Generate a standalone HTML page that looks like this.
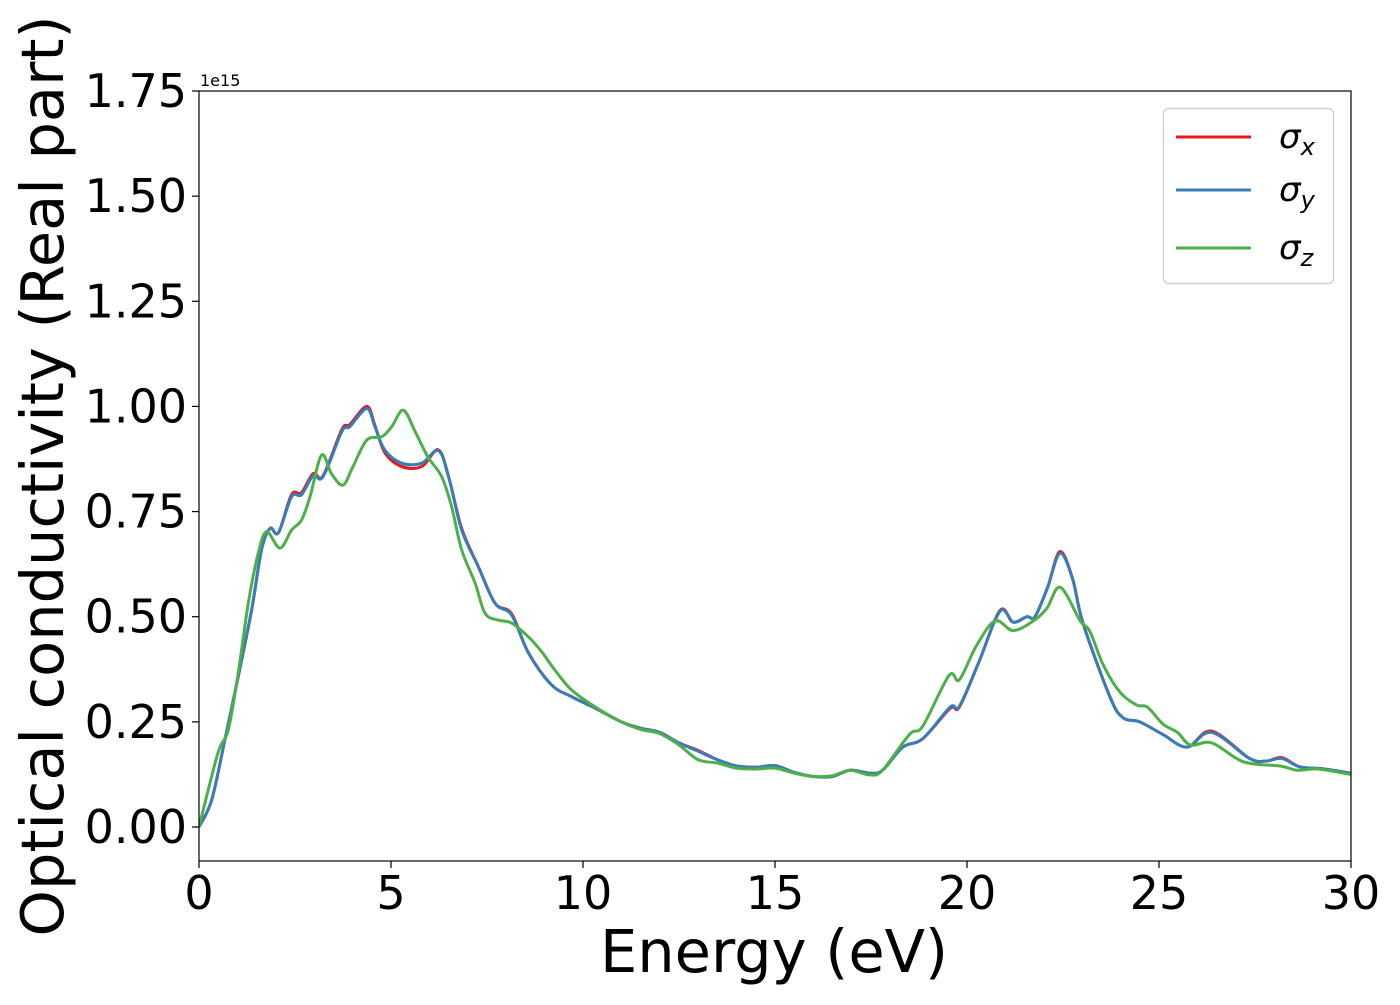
<!DOCTYPE html>
<html><head><meta charset="utf-8"><style>
html,body{margin:0;padding:0;background:#fff}
body{position:relative;width:1400px;height:1000px;overflow:hidden}
svg text{font-family:"DejaVu Sans","Liberation Sans",sans-serif;fill:#000}
</style></head><body>
<svg id="chart" width="1400" height="1000" viewBox="0 0 1400 1000" xmlns="http://www.w3.org/2000/svg">
<rect width="1400" height="1000" fill="#fff"/>
<g id="plot"></g>
<g id="axes"></g>
</svg>
<script>
const xTicks=[0,5,10,15,20,25,30];
const yTicks=[0,0.25,0.5,0.75,1.0,1.25,1.5,1.75];
const yTickLabels=["0.00","0.25","0.50","0.75","1.00","1.25","1.50","1.75"];
const energyXY=[0,0.33,0.68,1.02,1.37,1.63,1.85,2.07,2.41,2.67,2.97,3.23,3.72,3.93,4.37,4.58,4.84,5.28,5.8,6.23,6.5,6.84,7.27,7.71,8.14,8.58,9.18,9.7,10.31,11,11.5,12,12.5,13,13.5,14,14.5,15,15.5,16,16.5,16.95,17.47,17.8,18.33,18.85,19.56,19.8,20.3,20.86,21.2,21.56,21.77,22.1,22.42,22.75,23.02,23.72,24.06,24.5,25.1,25.73,26.37,27.36,27.8,28.2,28.67,29.3,30];
const sigmaX=[0,0.064,0.21,0.357,0.516,0.66,0.71,0.70,0.79,0.795,0.84,0.835,0.945,0.957,1.0,0.955,0.89,0.857,0.857,0.897,0.833,0.71,0.62,0.532,0.507,0.414,0.338,0.31,0.283,0.25,0.235,0.225,0.2,0.182,0.16,0.145,0.142,0.146,0.13,0.12,0.12,0.135,0.128,0.135,0.19,0.21,0.282,0.285,0.39,0.515,0.487,0.5,0.5,0.57,0.655,0.59,0.485,0.31,0.26,0.25,0.22,0.19,0.228,0.163,0.157,0.165,0.143,0.138,0.128];
const sigmaY=[0,0.064,0.21,0.357,0.516,0.66,0.71,0.70,0.785,0.79,0.835,0.833,0.94,0.952,0.995,0.952,0.896,0.865,0.865,0.895,0.833,0.706,0.62,0.532,0.504,0.414,0.338,0.31,0.283,0.25,0.235,0.225,0.2,0.18,0.16,0.145,0.142,0.146,0.13,0.12,0.12,0.135,0.128,0.135,0.19,0.21,0.285,0.287,0.39,0.513,0.487,0.5,0.5,0.57,0.651,0.59,0.485,0.31,0.26,0.25,0.22,0.19,0.225,0.163,0.157,0.163,0.143,0.138,0.128];
const energyZ=[0,0.49,0.76,1.02,1.28,1.54,1.76,2.11,2.41,2.67,2.89,3.19,3.45,3.75,4.01,4.37,4.76,5.02,5.32,5.63,5.96,6.32,6.58,6.84,7.19,7.45,7.79,8.14,8.58,8.92,9.27,9.7,10.31,11,11.5,12,12.5,13,13.5,14,14.5,15,15.5,16,16.5,16.95,17.47,17.8,18.5,18.85,19.53,19.8,20.24,20.73,21.2,21.73,22.08,22.43,22.95,23.2,23.55,23.99,24.42,24.7,25.1,25.48,25.82,26.38,27.2,28.16,28.6,29.13,30];
const sigmaZ=[0,0.175,0.23,0.365,0.53,0.65,0.702,0.663,0.706,0.73,0.785,0.884,0.84,0.813,0.857,0.92,0.928,0.952,0.991,0.94,0.88,0.833,0.761,0.659,0.58,0.508,0.492,0.485,0.452,0.417,0.373,0.326,0.286,0.25,0.232,0.222,0.195,0.16,0.152,0.14,0.138,0.14,0.128,0.12,0.122,0.135,0.124,0.135,0.22,0.24,0.36,0.35,0.43,0.49,0.467,0.49,0.52,0.57,0.49,0.465,0.385,0.32,0.29,0.285,0.245,0.225,0.195,0.2,0.155,0.145,0.135,0.138,0.125];

const X0=199,X1=1351,Y0=827,YTOP=91;
const xScale=e=>X0+(e-0)/(30-0)*(X1-X0);
const yScale=v=>Y0-(v/1.75)*(Y0-YTOP);
const NS="http://www.w3.org/2000/svg";
function mk(tag,attrs,parent){const el=document.createElementNS(NS,tag);for(const k in attrs)el.setAttribute(k,attrs[k]);parent.appendChild(el);return el;}
function smoothPath(xs,ys){
  const p=xs.map((x,i)=>[xScale(x),yScale(ys[i])]);
  let d="M"+p[0][0].toFixed(2)+","+p[0][1].toFixed(2);
  for(let i=0;i<p.length-1;i++){
    const p0=p[Math.max(0,i-1)],p1=p[i],p2=p[i+1],p3=p[Math.min(p.length-1,i+2)];
    const c1=[p1[0]+(p2[0]-p0[0])/6,p1[1]+(p2[1]-p0[1])/6];
    const c2=[p2[0]-(p3[0]-p1[0])/6,p2[1]-(p3[1]-p1[1])/6];
    d+=" C"+c1.map(v=>v.toFixed(2)).join(",")+" "+c2.map(v=>v.toFixed(2)).join(",")+" "+p2[0].toFixed(2)+","+p2[1].toFixed(2);
  }
  return d;
}
const plot=document.getElementById("plot");
const axes=document.getElementById("axes");
const cp=mk("clipPath",{id:"clip"},plot);
mk("rect",{x:X0,y:YTOP,width:X1-X0,height:861-YTOP},cp);
const series=[[energyXY,sigmaX,"#e41a1c","sigma-x-line"],[energyXY,sigmaY,"#377eb8","sigma-y-line"],[energyZ,sigmaZ,"#4daf4a","sigma-z-line"]];
for(const s of series){
  const el=mk("path",{d:smoothPath(s[0],s[1]),fill:"none",stroke:s[2],"stroke-width":3,"stroke-linejoin":"round","clip-path":"url(#clip)"},plot);
  
  
}
const frame=mk("rect",{x:X0,y:YTOP,width:X1-X0,height:861-YTOP,fill:"none",stroke:"#000","stroke-width":1.2},axes);


for(const t of xTicks){
  const x=xScale(t);
  mk("line",{x1:x,y1:861,x2:x,y2:868,stroke:"#000","stroke-width":1.2},axes);
  const tx=mk("text",{x:x,y:909,"font-size":46,"text-anchor":"middle"},axes);tx.textContent=String(t);
  
  
}
yTicks.forEach((t,i)=>{
  const y=yScale(t);
  mk("line",{x1:X0-7,y1:y,x2:X0,y2:y,stroke:"#000","stroke-width":1.2},axes);
  const ty=mk("text",{x:187,y:y+16,"font-size":46,"text-anchor":"end"},axes);ty.textContent=yTickLabels[i];
  
  
});
</script>
<svg style="position:absolute;left:0;top:0" width="1400" height="1000">
<text x="200" y="86" font-size="16">1e15</text>
<text x="774" y="972" font-size="59" text-anchor="middle">Energy (eV)</text>
<text transform="translate(63,476) rotate(-90)" font-size="59" text-anchor="middle">Optical conductivity (Real part)</text>
<g>
<rect x="1163.5" y="108.5" width="170" height="175" rx="5" fill="#fff" fill-opacity="0.8" stroke="#ccc" stroke-width="1.2"/>
<line x1="1176" y1="137" x2="1251" y2="137" stroke="#e41a1c" stroke-width="3"/>
<line x1="1176" y1="190" x2="1251" y2="190" stroke="#377eb8" stroke-width="3"/>
<line x1="1176" y1="248" x2="1251" y2="248" stroke="#4daf4a" stroke-width="3"/>
<text x="1279" y="148" font-size="34" font-style="italic">σ<tspan font-size="24" dy="7">x</tspan></text>
<text x="1279" y="201" font-size="34" font-style="italic">σ<tspan font-size="24" dy="7">y</tspan></text>
<text x="1279" y="259" font-size="34" font-style="italic">σ<tspan font-size="24" dy="7">z</tspan></text>
</g>
</svg>
</body></html>
